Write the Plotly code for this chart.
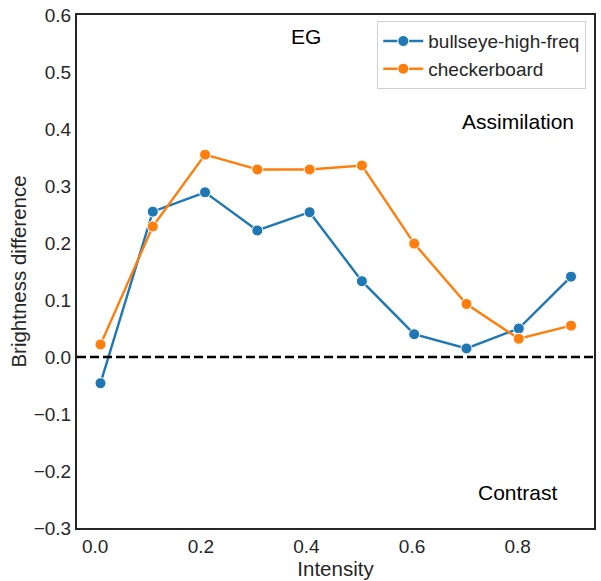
import plotly.graph_objects as go

intensity = [0.01, 0.109, 0.208, 0.307, 0.406, 0.505, 0.604, 0.703, 0.802, 0.901]
bullseye = [-0.046, 0.255, 0.289, 0.222, 0.254, 0.133, 0.040, 0.015, 0.050, 0.141]
checkerboard = [0.022, 0.229, 0.355, 0.329, 0.329, 0.336, 0.199, 0.093, 0.032, 0.055]
series_names = ["bullseye-high-freq", "checkerboard"]
colors = ["#1f77b4", "#ff7f0e"]
x_ticks = [0.0, 0.2, 0.4, 0.6, 0.8]
y_ticks = [-0.3, -0.2, -0.1, 0.0, 0.1, 0.2, 0.3, 0.4, 0.5, 0.6]

font = "Liberation Sans, Arial, sans-serif"
fig = go.Figure()
for name, ys, c in zip(series_names, [bullseye, checkerboard], colors):
    fig.add_trace(go.Scatter(
        x=intensity, y=ys, name=name, mode="lines+markers",
        line=dict(color=c, width=2.4),
        marker=dict(color=c, size=11, line=dict(color="white", width=1)),
    ))

fig.add_shape(type="line", xref="paper", x0=0, x1=1, yref="y", y0=0, y1=0,
              line=dict(color="black", width=2.5, dash="9px,4px"))

ann_font = dict(family=font, size=21, color="black")
fig.add_annotation(x=0.4, y=0.563, text="EG", showarrow=False, font=ann_font)
fig.add_annotation(x=0.80, y=0.413, text="Assimilation", showarrow=False, font=ann_font)
fig.add_annotation(x=0.80, y=-0.238, text="Contrast", showarrow=False, font=ann_font)

axis_common = dict(showline=True, linecolor="#262626", linewidth=2, mirror=True,
                   showgrid=False, zeroline=False, ticks="",
                   tickfont=dict(family=font, size=19, color="#262626"),
                   title_font=dict(family=font, size=20.5, color="#262626"))

fig.update_layout(
    width=601, height=581,
    margin=dict(l=77, r=5, t=14, b=53),
    plot_bgcolor="white", paper_bgcolor="white",
    xaxis=dict(range=[-0.0345, 0.9445], tickvals=x_ticks,
               ticktext=[f"{v:.1f}" for v in x_ticks], title=dict(text="Intensity", standoff=2),
               **axis_common),
    yaxis=dict(range=[-0.3, 0.6], tickvals=y_ticks,
               ticktext=[f"{v:.1f}".replace("-", "\u2212") for v in y_ticks],
               title=dict(text="Brightness difference", standoff=2),
               **axis_common),
    legend=dict(x=0.985, y=0.988, xanchor="right", yanchor="top",
                bordercolor="#d0d0d0", borderwidth=1, bgcolor="white",
                font=dict(family=font, size=19, color="#262626"),
                tracegroupgap=0, itemwidth=40),
    showlegend=True,
)

fig.write_html("out.html")
